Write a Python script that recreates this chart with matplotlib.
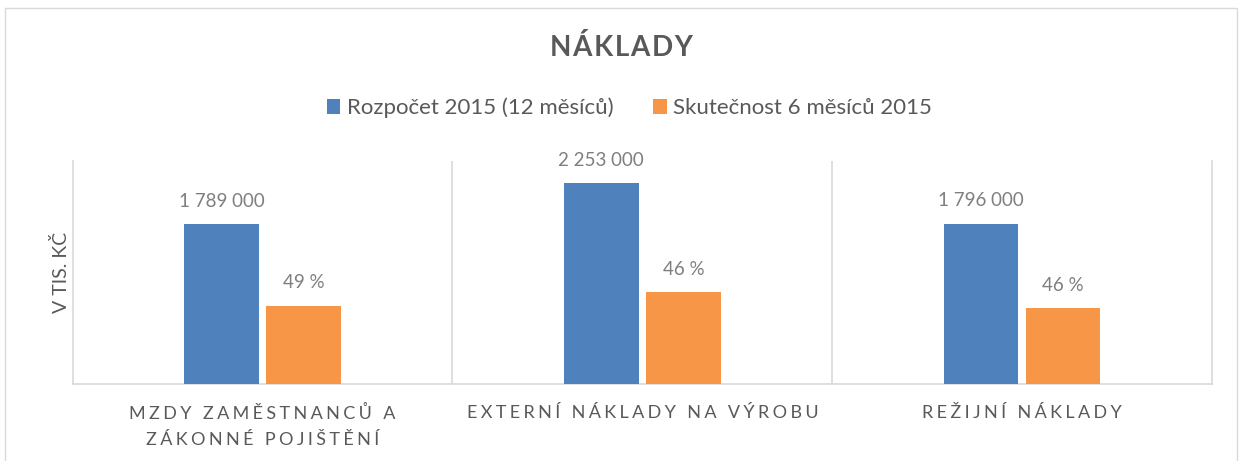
import matplotlib
matplotlib.use("Agg")
import matplotlib.pyplot as plt
from matplotlib.patches import Rectangle
import numpy as np

# ---- data ----
categories = ["MZDY ZAMĚSTNANCŮ A\nZÁKONNÉ POJIŠTĚNÍ",
              "EXTERNÍ NÁKLADY NA VÝROBU",
              "REŽIJNÍ NÁKLADY"]
series_names = ["Rozpočet 2015 (12 měsíců)", "Skutečnost 6 měsíců 2015"]
budget = [1789000, 2253000, 1796000]
actual = [878000, 1030000, 850000]
budget_labels = ["1 789 000", "2 253 000", "1 796 000"]
actual_labels = ["49 %", "46 %", "46 %"]
title = "NÁKLADY"
ylabel = "V TIS. KČ"

# ---- style ----
FONT = ["Lato", "DejaVu Sans"]
plt.rcParams["font.family"] = FONT
BLUE = "#4f81bd"
ORANGE = "#f79646"
TXT = "#595959"
LBL = "#7f7f7f"
GRID = "#d9d9d9"

def spaced(s, sep="\u2009"):
    return "\n".join(sep.join(list(line)) for line in s.split("\n"))

W, H = 1242, 461
fig = plt.figure(figsize=(W / 100, H / 100), dpi=100)
fig.patch.set_facecolor("white")

# outer chart border
fig.add_artist(Rectangle((5 / W, -0.02), 1232 / W, 1 - 8 / H + 0.02,
                         transform=fig.transFigure, fill=False,
                         edgecolor=GRID, linewidth=1))

ax = fig.add_axes([72.7 / W, 1 - 384 / H, (1212 - 72.7) / W, (384 - 161) / H])
x = np.arange(len(categories))
bw = 0.196
off = 0.108
b1 = ax.bar(x - off, budget, bw, color=BLUE, label=series_names[0], zorder=3)
b2 = ax.bar(x + off, actual, bw, color=ORANGE, label=series_names[1], zorder=3)

ax.set_xlim(-0.5, len(categories) - 0.5)
ax.set_ylim(0, 2500000)
ax.set_yticks([])
ax.spines["top"].set_visible(False)
for sp in ["left", "right", "bottom"]:
    ax.spines[sp].set_color(GRID)
    ax.spines[sp].set_linewidth(1.2)
for xb in x[:-1] + 0.5:
    ax.axvline(xb, color=GRID, linewidth=1.2, zorder=1)

ax.set_xticks(x, [spaced(c, "\u2009\u200a") for c in categories])
ax.tick_params(axis="x", length=0, pad=15, labelsize=13, labelcolor=TXT)
for t in ax.get_xticklabels():
    t.set_linespacing(1.75)

for cont, labs in ((b1, budget_labels), (b2, actual_labels)):
    for rect, lab in zip(cont, labs):
        ax.annotate(lab, (rect.get_x() + rect.get_width() / 2, rect.get_height()),
                    xytext=(0, 16.5), textcoords="offset points",
                    ha="center", va="center", fontsize=13.5, color=LBL)

fig.text(61 / W, 1 - 272.5 / H, ylabel, rotation=90, ha="center", va="center",
         fontsize=14, color=TXT)
fig.text(0.5, 1 - 48 / H, spaced(title, "\u200a"), ha="center", va="center",
         fontsize=20, fontweight="bold", color=TXT)

leg = fig.legend(handles=[b1, b2], labels=series_names, loc="center",
                 bbox_to_anchor=(0.5 + 8.5 / W, 1 - 108 / H), ncol=2, frameon=False,
                 fontsize=16, handlelength=0.6, handleheight=0.6,
                 handletextpad=0.3, columnspacing=1.8, labelcolor=TXT)

fig.savefig("out.png", dpi=100)
